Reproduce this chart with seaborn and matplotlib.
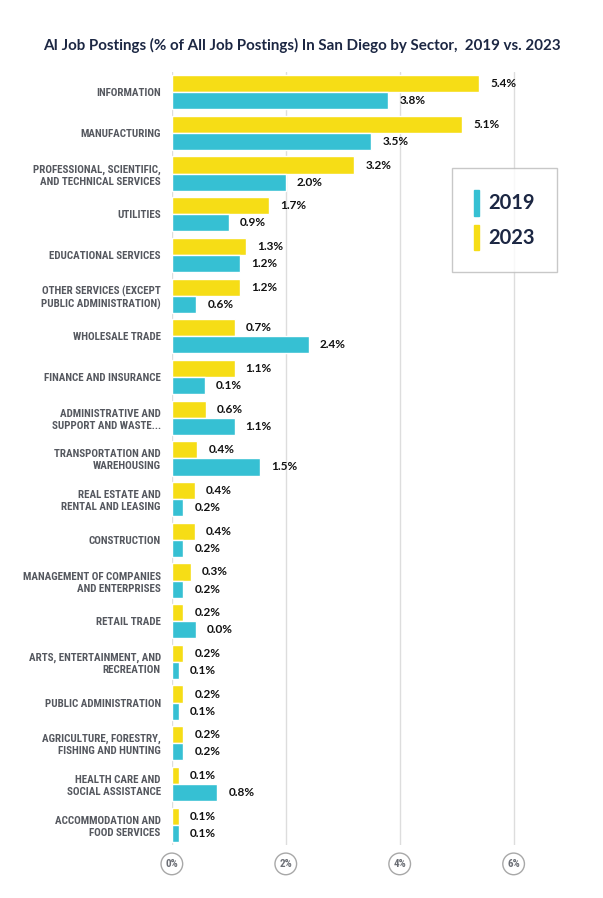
import pandas as pd
import numpy as np
import matplotlib.pyplot as plt
import seaborn as sns
from matplotlib.patches import Patch

# Sectors, top to bottom
sectors = [
    "INFORMATION",
    "MANUFACTURING",
    "PROFESSIONAL, SCIENTIFIC,\nAND TECHNICAL SERVICES",
    "UTILITIES",
    "EDUCATIONAL SERVICES",
    "OTHER SERVICES (EXCEPT\nPUBLIC ADMINISTRATION)",
    "WHOLESALE TRADE",
    "FINANCE AND INSURANCE",
    "ADMINISTRATIVE AND\nSUPPORT AND WASTE...",
    "TRANSPORTATION AND\nWAREHOUSING",
    "REAL ESTATE AND\nRENTAL AND LEASING",
    "CONSTRUCTION",
    "MANAGEMENT OF COMPANIES\nAND ENTERPRISES",
    "RETAIL TRADE",
    "ARTS, ENTERTAINMENT, AND\nRECREATION",
    "PUBLIC ADMINISTRATION",
    "AGRICULTURE, FORESTRY,\nFISHING AND HUNTING",
    "HEALTH CARE AND\nSOCIAL ASSISTANCE",
    "ACCOMMODATION AND\nFOOD SERVICES",
]

# bar lengths as drawn (% of all postings)
v2023 = [5.4, 5.1, 3.2, 1.7, 1.3, 1.2, 1.1, 1.1, 0.6, 0.45, 0.4, 0.4, 0.33, 0.2, 0.2, 0.2, 0.2, 0.12, 0.12]
v2019 = [3.8, 3.5, 2.0, 1.0, 1.2, 0.43, 2.4, 0.58, 1.1, 1.55, 0.2, 0.2, 0.2, 0.42, 0.12, 0.12, 0.2, 0.8, 0.12]

# printed value labels
lab2023 = ["5.4%", "5.1%", "3.2%", "1.7%", "1.3%", "1.2%", "0.7%", "1.1%", "0.6%", "0.4%",
           "0.4%", "0.4%", "0.3%", "0.2%", "0.2%", "0.2%", "0.2%", "0.1%", "0.1%"]
lab2019 = ["3.8%", "3.5%", "2.0%", "0.9%", "1.2%", "0.6%", "2.4%", "0.1%", "1.1%", "1.5%",
           "0.2%", "0.2%", "0.2%", "0.0%", "0.1%", "0.1%", "0.2%", "0.8%", "0.1%"]

years = ["2023", "2019"]
xticks = [0, 2, 4, 6]
xticklabels = ["0%", "2%", "4%", "6%"]

df = pd.concat([
    pd.DataFrame({"sector": sectors, "value": v2023, "year": "2023"}),
    pd.DataFrame({"sector": sectors, "value": v2019, "year": "2019"}),
])

sns.set_style("white")
plt.rcParams['font.family'] = ['Lato', 'DejaVu Sans']

colors = {"2023": "#f6dd16", "2019": "#36c0d3"}
navy = "#1c2743"
cond = ['Roboto Condensed', 'DejaVu Sans']

fig = plt.figure(figsize=(6.03, 8.98), dpi=100)
ax = fig.add_axes([0.285, 0.059, 0.614, 0.861])

sns.barplot(data=df, x="value", y="sector", hue="year", hue_order=years,
            palette=colors, orient="h", width=0.84, gap=0, ax=ax,
            legend=False, saturation=1, zorder=3)

for cont, labs in zip(ax.containers, [lab2023, lab2019]):
    ax.bar_label(cont, labels=labs, padding=8, fontsize=8.5,
                 fontweight="bold", color="#111111")

ax.set_xlim(0, 6.5)
ax.set_xticks(xticks)
ax.set_xticklabels(xticklabels)
ax.grid(axis="x", color="#dddddd", linewidth=1, zorder=0)
ax.set_xlabel("")
ax.set_ylabel("")
sns.despine(ax=ax, left=True, bottom=True)

for lbl in ax.get_yticklabels():
    lbl.set_family(cond)
    lbl.set_fontweight(900)
    lbl.set_fontsize(7.9)
    lbl.set_color("#55585f")
    lbl.set_multialignment("right")
    lbl.set_linespacing(1.25)
ax.tick_params(axis="y", length=0, pad=8)

for lbl in ax.get_xticklabels():
    lbl.set_family(cond)
    lbl.set_fontweight(900)
    lbl.set_fontsize(8)
    lbl.set_color("#6b6e75")
    lbl.set_bbox(dict(boxstyle="circle,pad=0.4", fc="white", ec="#a8a8a8", lw=1))
ax.tick_params(axis="x", length=0, pad=10)

handles = [Patch(color=colors["2019"], label="2019"), Patch(color=colors["2023"], label="2023")]
leg = ax.legend(handles=handles, loc="upper left", bbox_to_anchor=(0.758, 0.875),
                frameon=True, fancybox=False, edgecolor="#bbbbbb",
                handlelength=0.25, handleheight=1.6, handletextpad=0.5,
                borderpad=1.05, borderaxespad=0, labelspacing=0.45,
                prop={"family": "Lato", "weight": "bold", "size": 14.5})
leg.get_frame().set_linewidth(1)
for t in leg.get_texts():
    t.set_color(navy)

fig.text(0.5, 1 - 45 / 898, "AI Job Postings (% of All Job Postings) In San Diego by Sector,  2019 vs. 2023",
         ha="center", va="center", fontsize=10.9, fontweight="bold", color=navy)

fig.savefig("out.png", dpi=100, facecolor="white")
